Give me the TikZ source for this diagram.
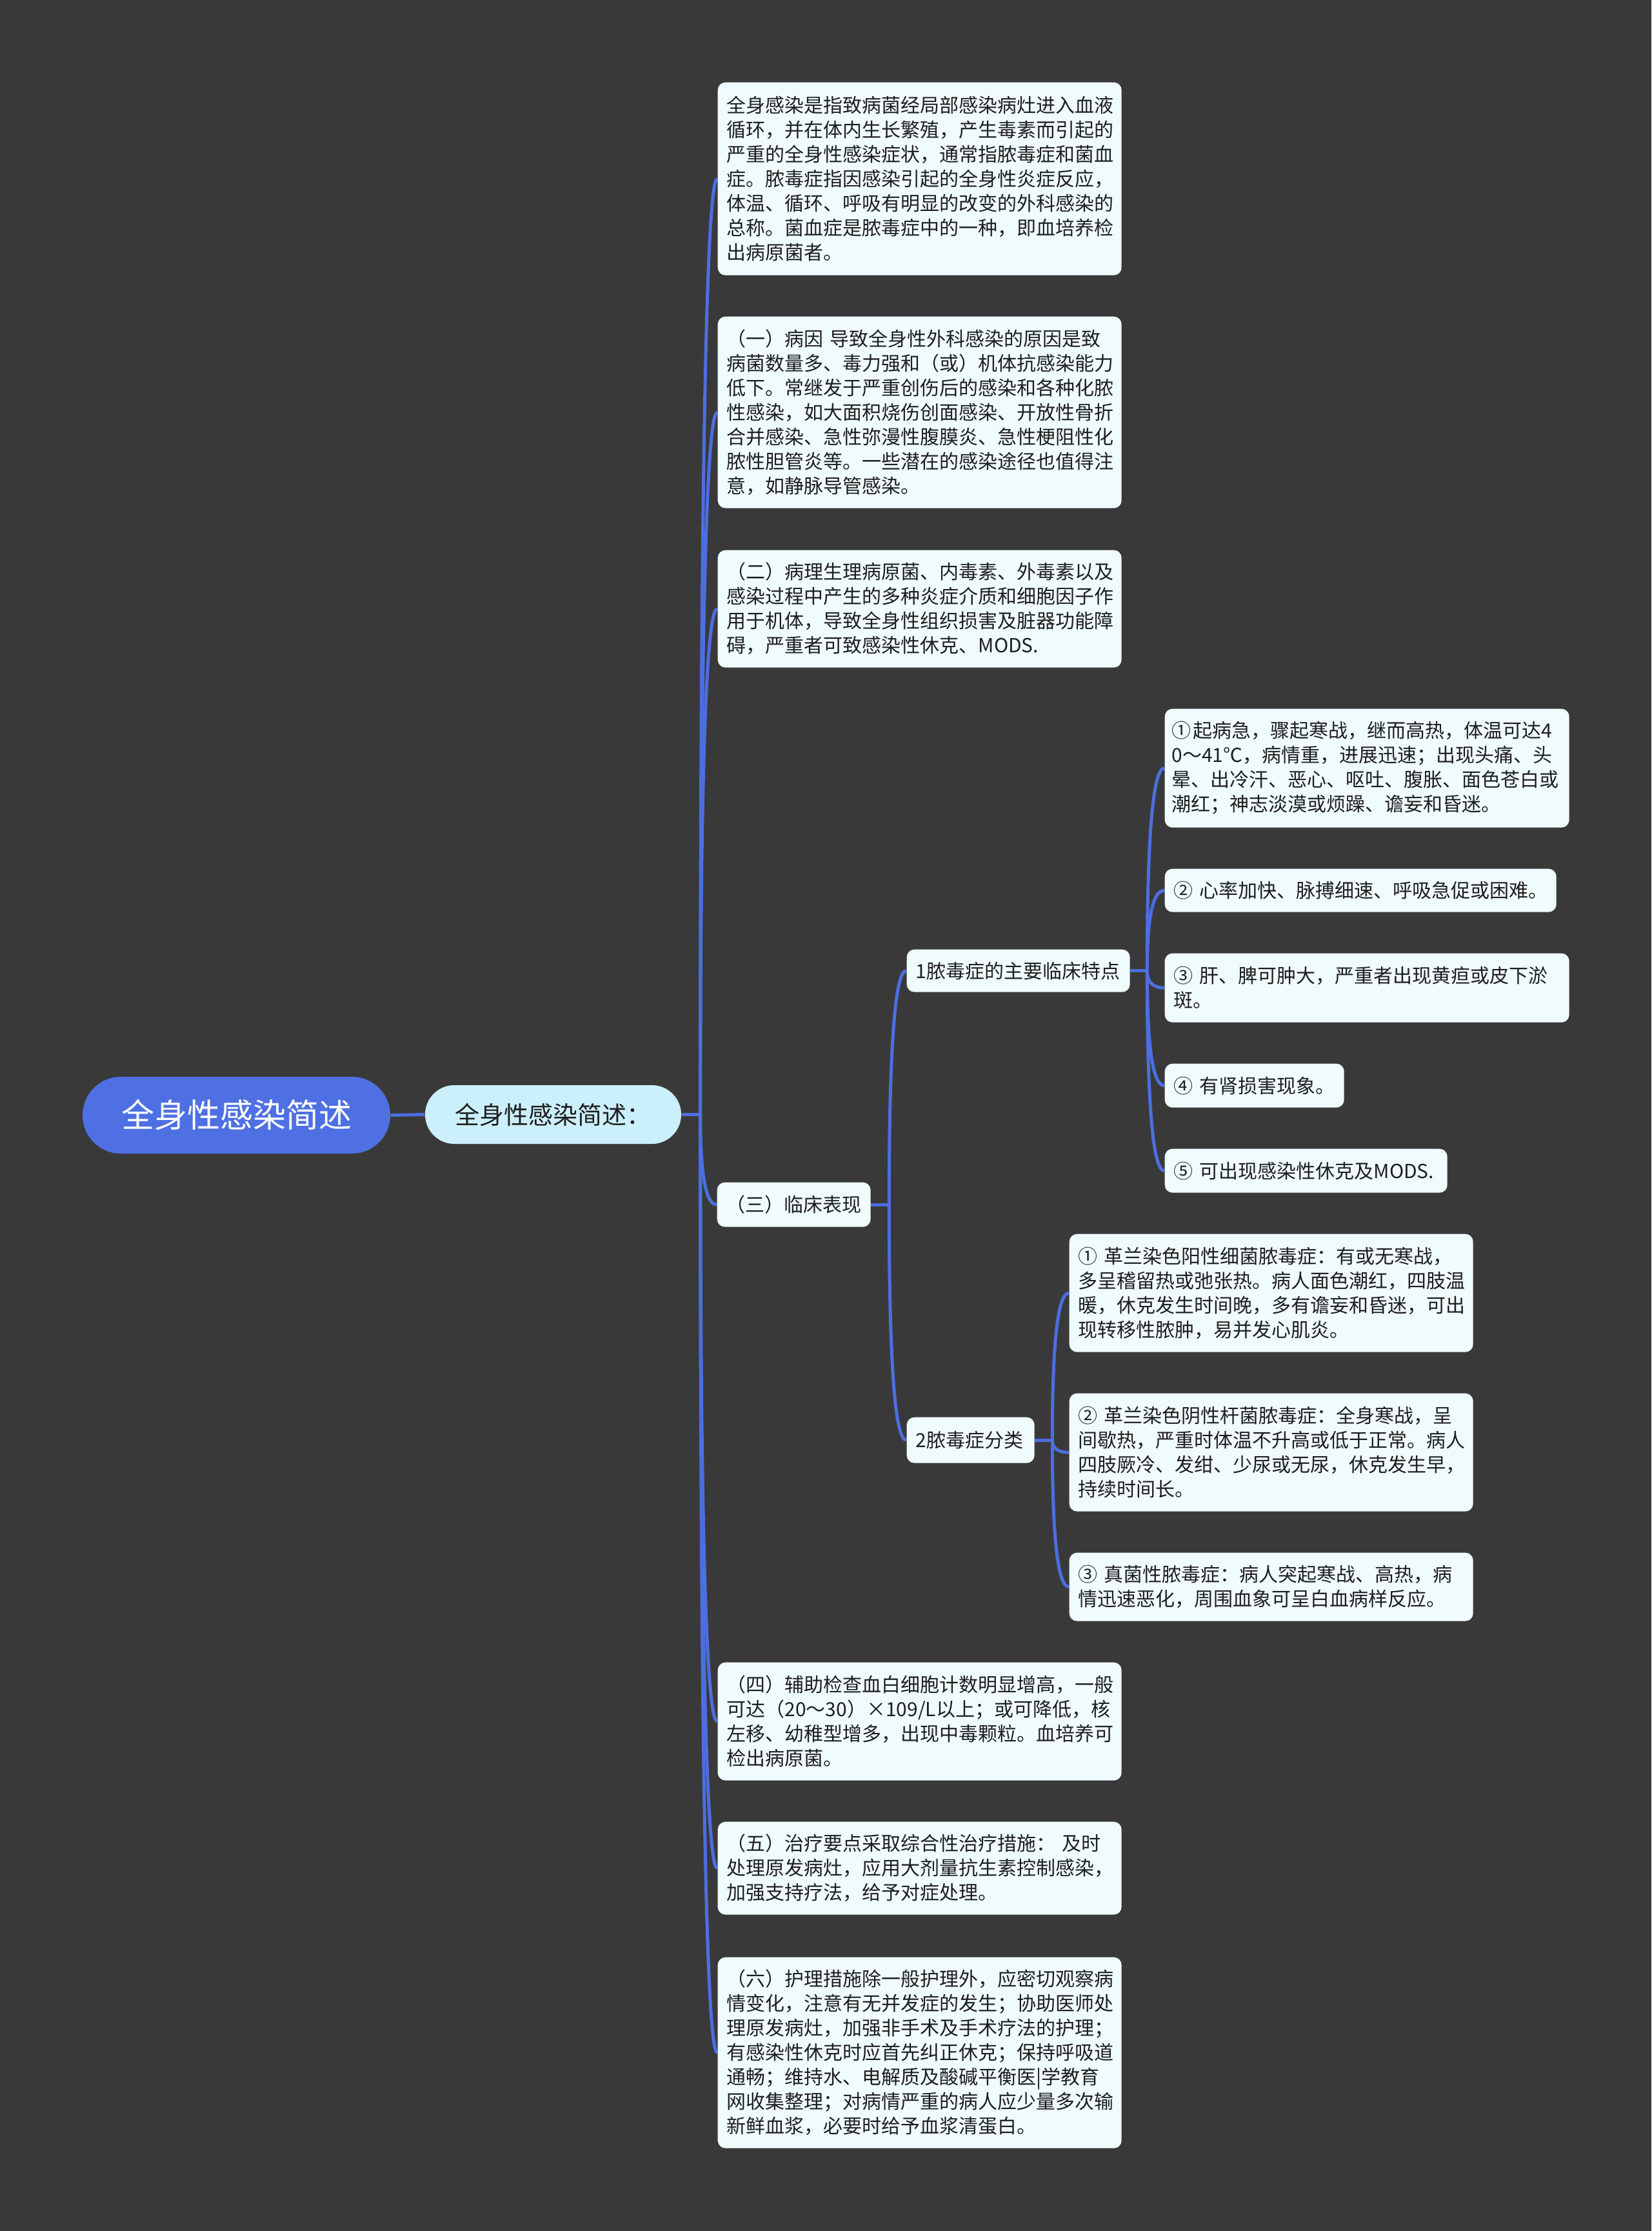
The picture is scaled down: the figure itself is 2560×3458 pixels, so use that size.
\documentclass[tikz,border=0pt]{standalone}
\usepackage{fontspec}
\usetikzlibrary{calc}
\newfontfamily\cjk{Noto Sans CJK SC}
\definecolor{bgcol}{RGB}{58,57,58}
\definecolor{linecol}{RGB}{76,110,224}
\definecolor{rootfill}{RGB}{78,112,227}
\definecolor{lonefill}{RGB}{204,239,252}
\definecolor{leaffill}{RGB}{240,251,253}
\definecolor{leaftext}{RGB}{30,30,30}
\pgfdeclarelayer{background}
\pgfsetlayers{background,main}
\newcommand\leaffont{\cjk\fontsize{9pt}{11.4pt}\selectfont}
\newcommand\mylink[2]{%
  \coordinate (q) at (#1 |- #2.west);
  \draw[conn] (#1) .. controls ($(#1)!0.667!(q)$) and ($(#2.west)!0.667!(q)$) .. (#2.west);}
\tikzset{
  leaf/.style={fill=leaffill, rounded corners=3.6pt, inner xsep=4.2pt, inner ysep=0pt,
    anchor=north west, align=left, text=leaftext, font=\leaffont},
  conn/.style={draw=linecol, line width=1.5pt},
  rootbox/.style={fill=rootfill, rounded corners=17.8pt, inner sep=0pt, text=white,
    minimum width=143.1pt, minimum height=35.7pt, font=\cjk\fontsize{15.3pt}{18pt}\selectfont},
  onebox/.style={fill=lonefill, rounded corners=13.6pt, inner sep=0pt, text=leaftext,
    minimum width=119.1pt, minimum height=27.3pt, font=\cjk\fontsize{11.4pt}{14pt}\selectfont},
}
\begin{document}
\begin{tikzpicture}[x=0.3pt,y=-0.3pt]
\useasboundingbox (0,0) rectangle (2560,3458);

\node[rootbox] (root) at (366.5,1728.5) {全身性感染简述};
\node[onebox] (L1) at (857.5,1727.5) {全身性感染简述：};

\node[leaf, text width=179.4pt, minimum height=89.7pt] (A) at (1112,127) {全身感染是指致病菌经局部感染病灶进入血液\\循环，并在体内生长繁殖，产生毒素而引起的\\严重的全身性感染症状，通常指脓毒症和菌血\\症。脓毒症指因感染引起的全身性炎症反应，\\体温、循环、呼吸有明显的改变的外科感染的\\总称。菌血症是脓毒症中的一种，即血培养检\\出病原菌者。};

\node[leaf, text width=179.4pt, minimum height=89.1pt] (B) at (1112,490) {（一）病因~导致全身性外科感染的原因是致\\病菌数量多、毒力强和（或）机体抗感染能力\\低下。常继发于严重创伤后的感染和各种化脓\\性感染，如大面积烧伤创面感染、开放性骨折\\合并感染、急性弥漫性腹膜炎、急性梗阻性化\\脓性胆管炎等。一些潜在的感染途径也值得注\\意，如静脉导管感染。};

\node[leaf, text width=179.4pt, minimum height=54.6pt] (C) at (1112,852) {（二）病理生理病原菌、内毒素、外毒素以及\\感染过程中产生的多种炎症介质和细胞因子作\\用于机体，导致全身性组织损害及脏器功能障\\碍，严重者可致感染性休克、MODS.};

\node[leaf, text width=63pt, minimum height=20.7pt] (D) at (1111,1832) {（三）临床表现};

\node[leaf, text width=179.4pt, minimum height=54.9pt] (E) at (1112,2576) {（四）辅助检查血白细胞计数明显增高，一般\\可达（20～30）×109/L以上；或可降低，核\\左移、幼稚型增多，出现中毒颗粒。血培养可\\检出病原菌。};

\node[leaf, text width=179.4pt, minimum height=43.2pt] (F) at (1112,2823) {（五）治疗要点采取综合性治疗措施：~及时\\处理原发病灶，应用大剂量抗生素控制感染，\\加强支持疗法，给予对症处理。};

\node[leaf, text width=179.4pt, minimum height=88.8pt] (G) at (1112,3033) {（六）护理措施除一般护理外，应密切观察病\\情变化，注意有无并发症的发生；协助医师处\\理原发病灶，加强非手术及手术疗法的护理；\\有感染性休克时应首先纠正休克；保持呼吸道\\通畅；维持水、电解质及酸碱平衡医|学教育\\网收集整理；对病情严重的病人应少量多次输\\新鲜血浆，必要时给予血浆清蛋白。};

\node[leaf, text width=95.4pt, minimum height=19.8pt] (P1) at (1405,1471) {1脓毒症的主要临床特点};
\node[leaf, text width=51pt, minimum height=21.3pt] (P2) at (1405,2196) {2脓毒症分类};

\node[leaf, inner xsep=3.2pt, text width=181.7pt, minimum height=55.2pt] (a) at (1805,1098) {①\hspace{1pt}起病急，骤起寒战，继而高热，体温可达4\\0～41℃，病情重，进展迅速；出现头痛、头\\晕、出冷汗、恶心、呕吐、腹胀、面色苍白或\\潮红；神志淡漠或烦躁、谵妄和昏迷。};
\node[leaf, text width=173.7pt, minimum height=20.1pt] (b) at (1805,1346) {②~心率加快、脉搏细速、呼吸急促或困难。};
\node[leaf, text width=179.7pt, minimum height=32.1pt] (c) at (1805,1477) {③~肝、脾可肿大，严重者出现黄疸或皮下淤\\斑。};
\node[leaf, text width=75pt, minimum height=20.4pt] (d) at (1805,1648) {④~有肾损害现象。};
\node[leaf, text width=123pt, minimum height=20.4pt] (e) at (1805,1780) {⑤~可出现感染性休克及MODS.};

\node[leaf, text width=179.4pt, minimum height=54.9pt] (f) at (1657,1912) {①~革兰染色阳性细菌脓毒症：有或无寒战，\\多呈稽留热或弛张热。病人面色潮红，四肢温\\暖，休克发生时间晚，多有谵妄和昏迷，可出\\现转移性脓肿，易并发心肌炎。};
\node[leaf, text width=179.4pt, minimum height=54.9pt] (g) at (1657,2159) {②~革兰染色阴性杆菌脓毒症：全身寒战，呈\\间歇热，严重时体温不升高或低于正常。病人\\四肢厥冷、发绀、少尿或无尿，休克发生早，\\持续时间长。};
\node[leaf, text width=179.4pt, minimum height=31.8pt] (h) at (1657,2406) {③~真菌性脓毒症：病人突起寒战、高热，病\\情迅速恶化，周围血象可呈白血病样反应。};

\begin{pgfonlayer}{background}
\fill[bgcol] (0,0) rectangle (2560,3458);
\draw[conn] (root.east) -- (L1.west);
\coordinate (j1) at ($(L1.east)+(29,0)$);
\draw[conn] (L1.east) -- (j1);
\mylink{j1}{A}\mylink{j1}{B}\mylink{j1}{C}\mylink{j1}{D}
\mylink{j1}{E}\mylink{j1}{F}\mylink{j1}{G}
\coordinate (j2) at ($(D.east)+(28,0)$);
\draw[conn] (D.east) -- (j2);
\mylink{j2}{P1}\mylink{j2}{P2}
\coordinate (j3) at ($(P1.east)+(26,0)$);
\draw[conn] (P1.east) -- (j3);
\mylink{j3}{a}\mylink{j3}{b}\mylink{j3}{c}\mylink{j3}{d}\mylink{j3}{e}
\coordinate (j4) at ($(P2.east)+(27,0)$);
\draw[conn] (P2.east) -- (j4);
\mylink{j4}{f}\mylink{j4}{g}\mylink{j4}{h}
\end{pgfonlayer}
\end{tikzpicture}
\end{document}
